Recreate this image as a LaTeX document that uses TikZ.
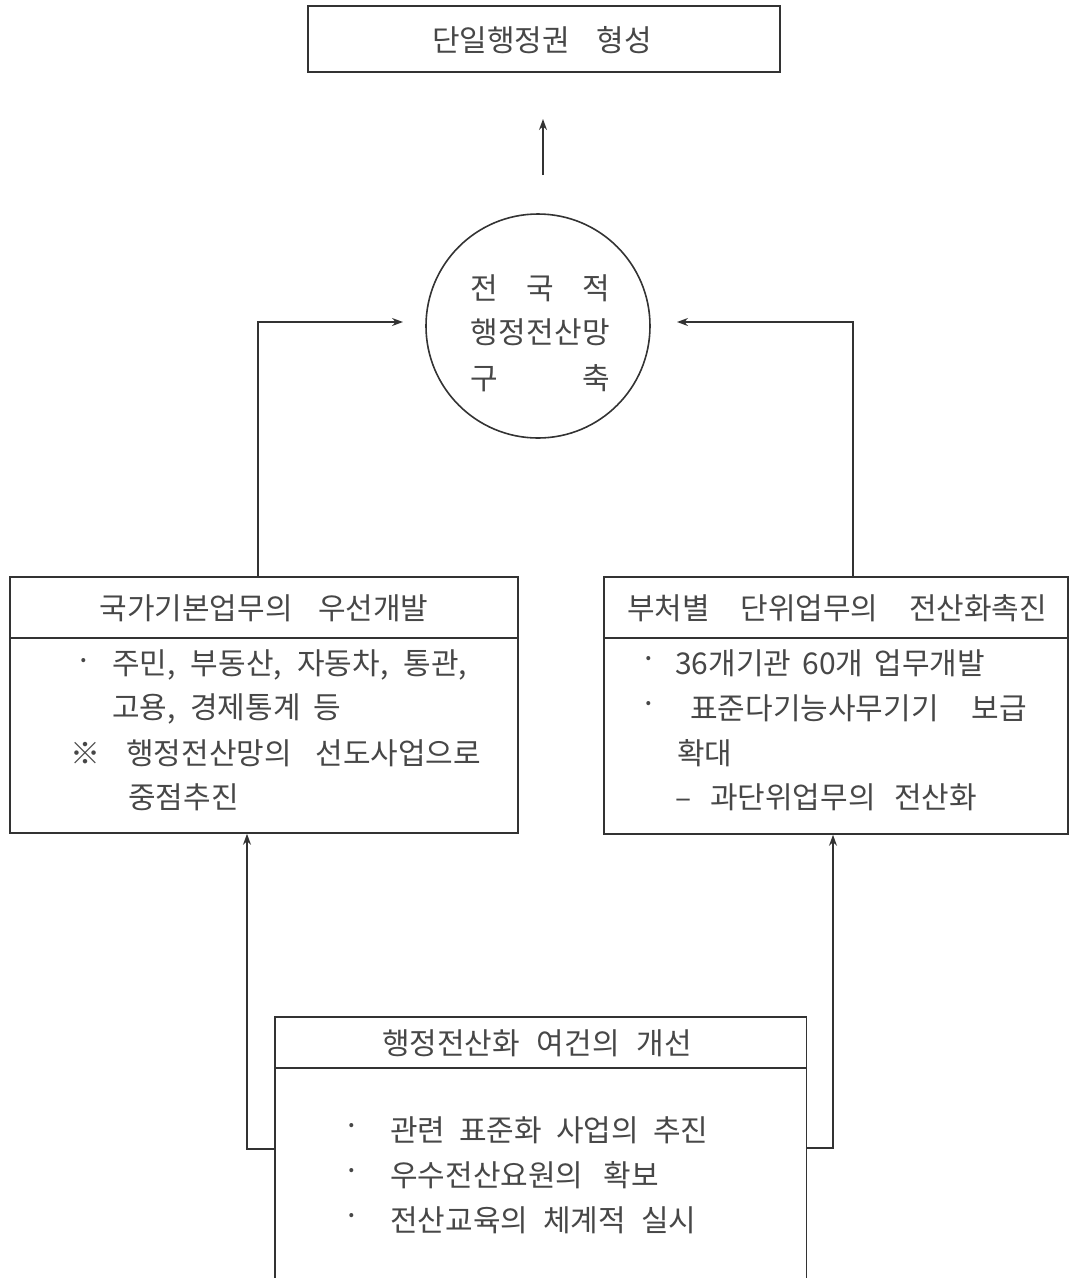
\documentclass[tikz,border=0pt]{standalone}
\usepackage{fontspec}
\setmainfont{Noto Sans CJK KR}
\usetikzlibrary{arrows.meta}
\begin{document}
\begin{tikzpicture}[x=1pt,y=-1pt,
  box/.style={draw=black!80, line width=1.6pt, inner sep=0pt},
  txt/.style={inner sep=0pt, text=black!72, font=\fontsize{30}{34}\selectfont},
  lnk/.style={draw=black!80, line width=1.4pt},
  arr/.style={lnk, -{Stealth[length=11pt,width=8pt]}}
]
\useasboundingbox (0,0) rectangle (1071,1278);

% top box
\node[box, minimum width=472pt, minimum height=66pt] (top) at (544,39) {};
\node[txt] (toptxt) at (542,40) {\makebox[220pt][s]{단일행정권 형성}};

% up arrow
\coordinate (u1) at (543,175);
\coordinate (u2) at (543,119);
\draw[arr] (u1) -- (u2);

% circle
\node[box, circle, minimum size=224pt] (circ) at (538,326) {};
\node[txt, anchor=west] (c1) at (470,288) {\makebox[140pt][s]{전\hfill 국\hfill 적}};
\node[txt, anchor=west] (c2) at (470,332) {\makebox[140pt][s]{행\hfill 정\hfill 전\hfill 산\hfill 망}};
\node[txt, anchor=west] (c3) at (470,378) {\makebox[140pt][s]{구\hfill 축}};

% left box
\node[box, minimum width=508pt, minimum height=256pt] (lbox) at (264,705) {};
\draw[lnk] (10,638) -- (518,638);
\node[txt] (lh) at (264,608) {\makebox[329pt][s]{국가기본업무의 우선개발}};
\node[txt] (lb1) at (84,665) {·};
\node[txt, anchor=west] (l1) at (112,665) {\makebox[355pt][s]{주민, 부동산, 자동차, 통관,}};
\node[txt, anchor=west] (l2) at (112,709) {\makebox[229pt][s]{고용, 경제통계 등}};
\node[txt] (lref) at (85,753) {※};
\node[txt, anchor=west] (l3) at (126,753) {\makebox[355pt][s]{행정전산망의 선도사업으로}};
\node[txt, anchor=west] (l4) at (128,797) {중점추진};

% right box
\node[box, minimum width=464pt, minimum height=257pt] (rbox) at (836,705.5) {};
\draw[lnk] (604,638) -- (1068,638);
\node[txt] (rh) at (837,608) {\makebox[420pt][s]{부처별 단위업무의 전산화촉진}};
\node[txt] (rb1) at (649,663) {·};
\node[txt, anchor=west] (r1) at (675,663) {\makebox[310pt][s]{36개기관 60개 업무개발}};
\node[txt] (rb2) at (649,708) {·};
\node[txt, anchor=west] (r2) at (690,708) {\makebox[337pt][s]{표준다기능사무기기 보급}};
\node[txt, anchor=west] (r3) at (677,753) {확대};
\node[txt, anchor=west] (r4) at (675,797) {\makebox[302pt][s]{– 과단위업무의 전산화}};

% bottom box (open at page bottom)
\node[draw=none, inner sep=0pt, minimum width=531pt, minimum height=261pt, anchor=north west] (bbox) at (275,1017) {};
\draw[box] (bbox.south west) -- (bbox.north west) -- (bbox.north east) -- (bbox.south east);
\draw[lnk] (275,1068) -- (806,1068);
\node[txt] (bh) at (537,1043) {\makebox[310pt][s]{행정전산화 여건의 개선}};
\node[txt] (bb1) at (352,1130) {·};
\node[txt, anchor=west] (b1) at (390,1130) {\makebox[318pt][s]{관련 표준화 사업의 추진}};
\node[txt] (bb2) at (352,1175) {·};
\node[txt, anchor=west] (b2) at (390,1175) {\makebox[269pt][s]{우수전산요원의 확보}};
\node[txt] (bb3) at (352,1220) {·};
\node[txt, anchor=west] (b3) at (390,1220) {\makebox[306pt][s]{전산교육의 체계적 실시}};

% connectors
\coordinate (lturn) at (258,322);
\coordinate (ltip) at (403,322);
\draw[arr] (lbox.north -| lturn) -- (lturn) -- (ltip);
\coordinate (rturn) at (853,322);
\coordinate (rtip) at (677,322);
\draw[arr] (rbox.north -| rturn) -- (rturn) -- (rtip);
\coordinate (blc) at (247,1149);
\draw[arr] (bbox.west |- blc) -- (blc) -- (lbox.south -| blc);
\coordinate (brc) at (833,1148);
\draw[arr] (bbox.east |- brc) -- (brc) -- (rbox.south -| brc);
\end{tikzpicture}
\end{document}
